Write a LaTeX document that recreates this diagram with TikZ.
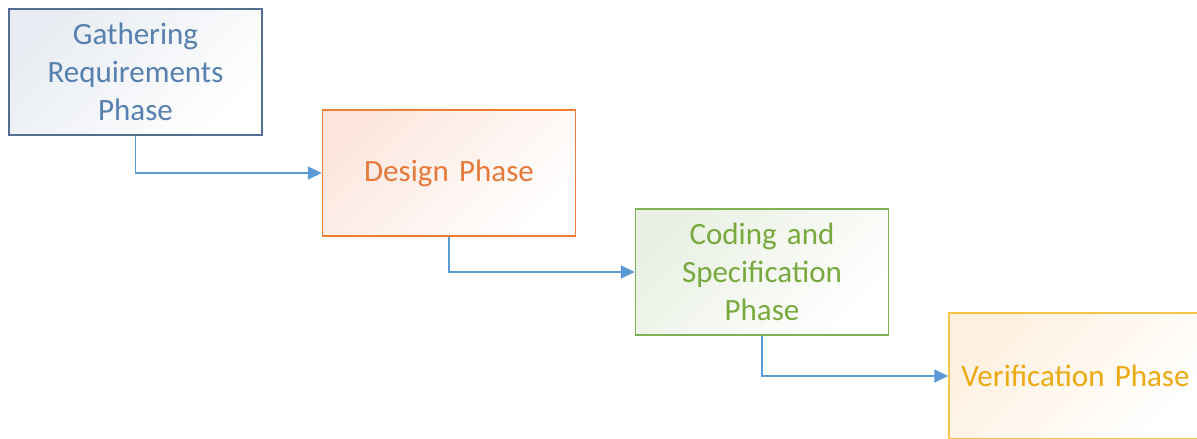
\documentclass[tikz,border=0pt]{standalone}
\usepackage{fontspec}
\setmainfont{Carlito}
\usetikzlibrary{arrows.meta}

\definecolor{gatherline}{HTML}{506F93}
\definecolor{gathertext}{HTML}{5680B0}
\definecolor{gatherfill}{HTML}{E8ECF2}
\definecolor{designline}{HTML}{ED7D31}
\definecolor{designtext}{HTML}{E5793A}
\definecolor{designfill}{HTML}{FCE6DE}
\definecolor{codeline}{HTML}{7DB356}
\definecolor{codetext}{HTML}{78A93C}
\definecolor{codefill}{HTML}{E9F0E3}
\definecolor{verifline}{HTML}{F6C547}
\definecolor{veriftext}{HTML}{EDAA10}
\definecolor{veriffill}{HTML}{FEF0E0}
\definecolor{flow}{HTML}{5B9BD5}

\tikzset{
  phase/.style={draw=#1line, line width=1.5pt, text=#1text,
    top color=#1fill, bottom color=white, shading angle=45,
    minimum width=253pt, minimum height=126pt, inner sep=0pt,
    align=center, text width=245pt,
    font=\fontsize{31}{38}\selectfont},
  flowline/.style={draw=flow, line width=1.8pt,
    -{Triangle[length=14pt,width=13pt]}}
}

\begin{document}
\begin{tikzpicture}[x=1pt,y=-1pt]
  \useasboundingbox (0,0) rectangle (1197,439);

  \node[phase=gather] (gather) at (135.5,72)  {Gathering\\Requirements\\Phase};
  \node[phase=design] (design) at (449,173)   {Design Phase};
  \node[phase=code]   (code)   at (762,272)   {Coding and\\Specification\\Phase};
  \node[phase=verif]  (verif)  at (1075.5,376) {Verification Phase};

  \draw[flowline] (gather.south) |- (design.west);
  \draw[flowline] (design.south) |- (code.west);
  \draw[flowline] (code.south)   |- (verif.west);
\end{tikzpicture}
\end{document}
